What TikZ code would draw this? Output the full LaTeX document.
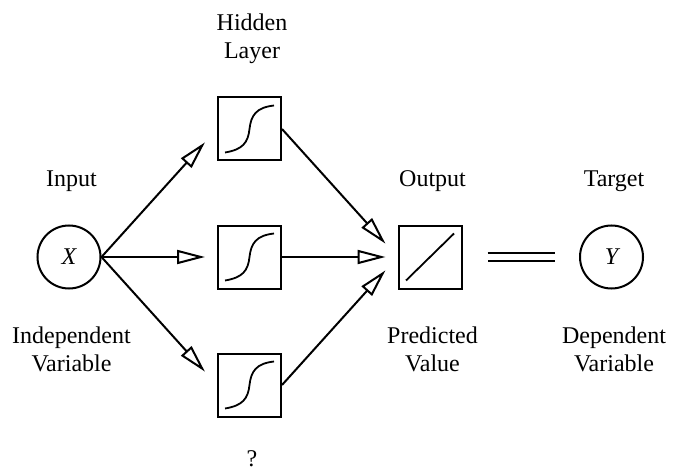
\documentclass[tikz,border=0pt]{standalone}
\usepackage{fontspec}
\setmainfont{Liberation Serif}
\usetikzlibrary{arrows.meta}
\begin{document}
\begin{tikzpicture}[x=1pt,y=-1pt, line width=2pt,
  blk/.style={draw, minimum size=63pt, inner sep=0pt},
  unit/.style={draw, circle, minimum size=63pt, inner sep=0pt, font=\fontsize{24}{28}\selectfont\itshape},
  lbl/.style={font=\fontsize{24}{28.5}\selectfont, align=center, inner sep=0pt},
  conn/.style={-{Triangle[open,length=28pt,width=14pt]}}]
\useasboundingbox (0,0) rectangle (684,470);
% units
\node[unit] (X) at (69,257) {X};
\node[unit] (Y) at (611.5,257) {Y};
\node[blk] (h1) at (249.5,129) {};
\node[blk] (h2) at (249.5,257) {};
\node[blk] (h3) at (249.5,385) {};
\node[blk] (out) at (430,257) {};
% transfer functions
\foreach \n in {h1,h2,h3}
  \draw[line width=1.8pt] ([shift={(-24.5,23.5)}]\n.center)
    .. controls ([shift={(-6.5,20.5)}]\n.center) and ([shift={(-1.5,13.5)}]\n.center) .. (\n.center)
    .. controls ([shift={(1.5,-13.5)}]\n.center) and ([shift={(6.5,-21.5)}]\n.center) .. ([shift={(24.5,-23.5)}]\n.center);
\draw[line width=1.8pt] ([shift={(-24,23.5)}]out.center) -- ([shift={(24,-23.5)}]out.center);
% connectors
\draw[conn, shorten >=18pt] (X.east) -- (h1.west);
\draw[conn, shorten >=12pt] (X.east) -- (h2.west);
\draw[conn, shorten >=18pt] (X.east) -- (h3.west);
\draw[conn, shorten >=18pt] (h1.east) -- (out.west);
\draw[conn, shorten >=12pt] (h2.east) -- (out.west);
\draw[conn, shorten >=18pt] (h3.east) -- (out.west);
\draw[double, double distance=6.5pt, shorten <=25pt, shorten >=24pt] (out.east) -- (Y.west);
% labels
\node[lbl, anchor=base] (inp) at (71.5,186) {Input};
\node[lbl, anchor=base] (outl) at (432.5,186) {Output};
\node[lbl, anchor=base] (tgt) at (614,186) {Target};
\node[lbl] (hid) at (252,38.7) {Hidden\\Layer};
\node[lbl] (iv) at (71.5,349.5) {Independent\\Variable};
\node[lbl] (pv) at (432.5,349.5) {Predicted\\Value};
\node[lbl] (dv) at (614,349.5) {Dependent\\Variable};
\node[lbl, anchor=base] (q) at (252,466) {?};
\end{tikzpicture}
\end{document}
